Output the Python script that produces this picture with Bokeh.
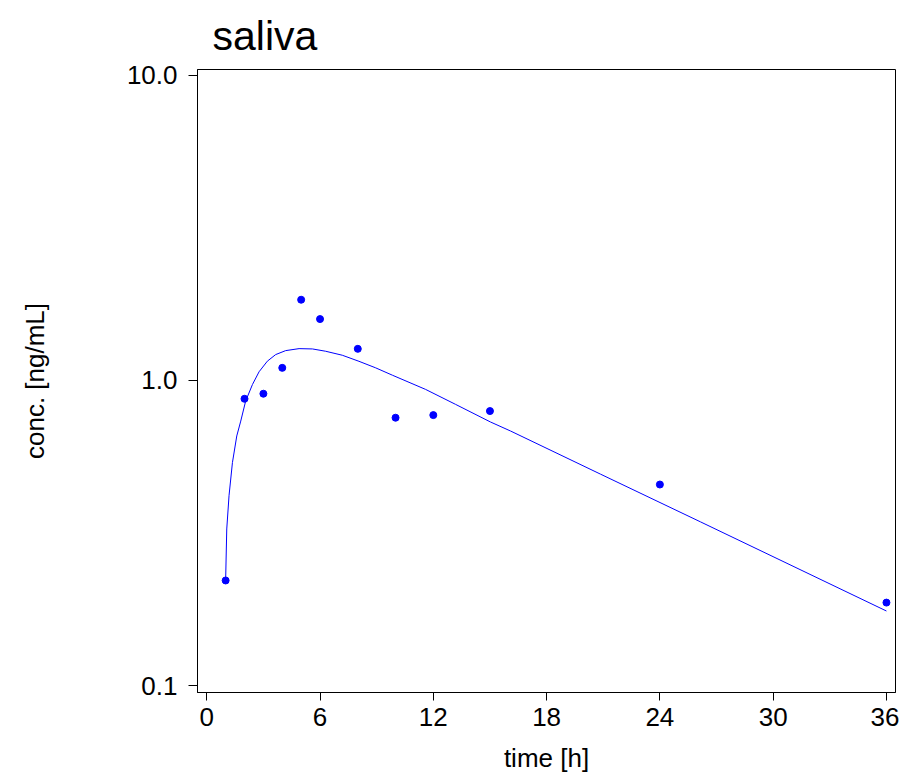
from bokeh.plotting import figure
from bokeh.models import Range1d, FixedTicker
from bokeh.embed import file_html
from bokeh.resources import INLINE

# observed data (saliva)
time_h = [1, 2, 3, 4, 5, 6, 8, 10, 12, 15, 24, 36]
conc = [0.221, 0.871, 0.905, 1.10, 1.84, 1.59, 1.27, 0.755, 0.770, 0.794, 0.456, 0.187]

# fitted curve
fit_t = [1.0, 1.06, 1.18, 1.36, 1.59, 1.80, 2.06, 2.42, 2.77, 3.21, 3.65, 4.18, 4.89,
         5.60, 6.30, 7.18, 8.06, 8.95, 9.83, 11.59, 13.18, 15.03, 16.09, 20.86, 26.15, 36.0]
fit_c = [0.221, 0.326, 0.419, 0.538, 0.658, 0.736, 0.856, 0.970, 1.068, 1.157, 1.216, 1.253, 1.272,
         1.269, 1.247, 1.210, 1.156, 1.100, 1.041, 0.935, 0.835, 0.731, 0.683, 0.493, 0.344, 0.1755]

x_ticks = [0, 6, 12, 18, 24, 30, 36]
y_ticks = [0.1, 1.0, 10.0]
y_tick_labels = {0.1: "0.1", 1: "1.0", 10: "10.0"}
title_text = "saliva"

FONT = "Liberation Sans"

p = figure(width=899, height=775,
           x_range=Range1d(-0.49, 36.48),
           y_range=Range1d(10 ** -1.0229, 10 ** 1.0196),
           y_axis_type="log",
           output_backend="svg", toolbar_location=None,
           min_border_left=197, min_border_right=4,
           min_border_top=69, min_border_bottom=81,
           title=title_text)

p.title.text_font = FONT
p.title.text_font_size = "41px"
p.title.text_font_style = "normal"
p.title.text_color = "black"
p.title.offset = 15
p.title.standoff = 21

p.grid.visible = False
p.outline_line_color = "black"
p.outline_line_width = 1
p.outline_line_alpha = 1

p.line(fit_t, fit_c, line_color="blue", line_width=1)
p.scatter(time_h, conc, size=7, fill_color="blue", line_color="blue")

xa = p.xaxis[0]
xa.ticker = FixedTicker(ticks=x_ticks)
xa.axis_label = "time [h]"
ya = p.yaxis[0]
ya.ticker = FixedTicker(ticks=y_ticks)
ya.major_label_overrides = y_tick_labels
ya.axis_label = "conc. [ng/mL]"

for ax in (xa, ya):
    ax.minor_tick_line_color = None
    ax.major_tick_in = 0
    ax.major_tick_out = 9
    ax.major_tick_line_color = "black"
    ax.axis_line_color = "black"
    ax.major_label_text_font = FONT
    ax.major_label_text_font_size = "26px"
    ax.major_label_text_color = "black"
    ax.axis_label_text_font = FONT
    ax.axis_label_text_font_size = "26px"
    ax.axis_label_text_font_style = "normal"
    ax.axis_label_text_color = "black"

xa.major_tick_out = 8
xa.major_label_standoff = 7
xa.axis_label_standoff = 14
ya.major_label_standoff = 11
ya.axis_label_standoff = 74

open("out.html", "w").write(file_html(p, INLINE))
